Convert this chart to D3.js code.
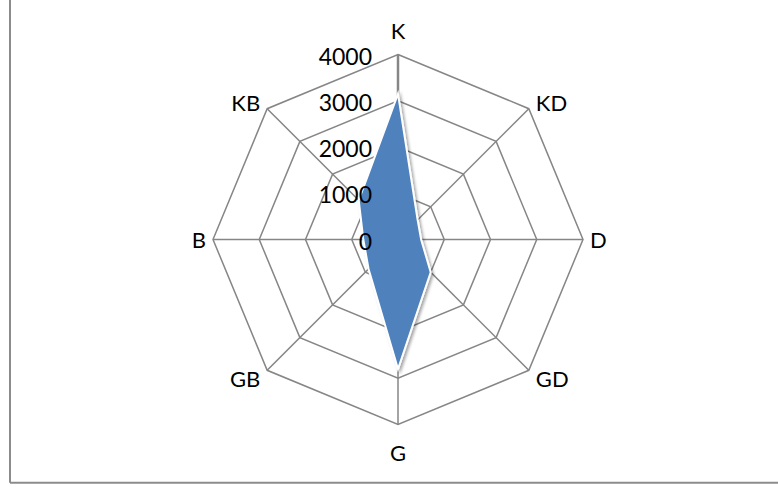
<!DOCTYPE html>
<html>
<head>
<meta charset="utf-8">
<script src="https://cdn.jsdelivr.net/npm/d3@7"></script>
<style>
  html, body { margin: 0; padding: 0; background: #fff; }
  svg { display: block; }
  text { font-family: Lato, "Open Sans", sans-serif; fill: #000; }
</style>
</head>
<body>
<svg id="chart" width="778" height="488"></svg>
<script>
// Radar categories, clockwise from the top
const categories = ["K", "KD", "D", "GD", "G", "GB", "B", "KB"];
// Series values per category
const values = [3150, 600, 500, 1000, 2800, 900, 750, 1200];
// Radial value axis ticks
const ticks = [0, 1000, 2000, 3000, 4000];

const W = 778, H = 488;
const cx = 398, cy = 239.5, R = 185;

const svg = d3.select("#chart");

// drop shadow for the data area
const defs = svg.append("defs");
const f = defs.append("filter").attr("id", "shadow")
  .attr("x", "-20%").attr("y", "-20%").attr("width", "140%").attr("height", "140%");
f.append("feDropShadow").attr("dx", 2).attr("dy", 2).attr("stdDeviation", 1.8)
  .attr("flood-color", "#000").attr("flood-opacity", 0.35);

// outer frame (left and bottom edges visible)
svg.append("line").attr("x1", 10).attr("x2", 10).attr("y1", 0).attr("y2", 482.7)
  .attr("stroke", "#8c8c8c").attr("stroke-width", 2);
svg.append("line").attr("x1", 10).attr("x2", W).attr("y1", 482.7).attr("y2", 482.7)
  .attr("stroke", "#8c8c8c").attr("stroke-width", 2);

const r = d3.scaleLinear().domain([0, d3.max(ticks)]).range([0, R]);
const angle = d3.scalePoint().domain(categories).range([0, 2 * Math.PI * (1 - 1 / categories.length)]);

const pt = (cat, v) => {
  const a = angle(cat) - Math.PI / 2;
  return [cx + r(v) * Math.cos(a), cy + r(v) * Math.sin(a)];
};

const g = svg.append("g");

// ring gridlines
g.selectAll("path.ring").data(ticks.filter(t => t > 0)).join("path")
  .attr("class", "ring")
  .attr("d", t => d3.line()(categories.map(c => pt(c, t))) + "Z")
  .attr("fill", "none").attr("stroke", "#868686").attr("stroke-width", 1.5);

// spokes
g.selectAll("line.spoke").data(categories).join("line")
  .attr("class", "spoke")
  .attr("x1", cx).attr("y1", cy)
  .attr("x2", c => pt(c, d3.max(ticks))[0])
  .attr("y2", c => pt(c, d3.max(ticks))[1])
  .attr("stroke", "#868686").attr("stroke-width", 1.5);

// value axis line along the first spoke
g.append("line")
  .attr("x1", cx).attr("y1", cy)
  .attr("x2", pt(categories[0], d3.max(ticks))[0])
  .attr("y2", pt(categories[0], d3.max(ticks))[1])
  .attr("stroke", "#868686").attr("stroke-width", 2.5);

// data area
g.append("path")
  .attr("d", d3.line()(categories.map((c, i) => pt(c, values[i]))) + "Z")
  .attr("fill", "#4F81BD")
  .attr("stroke", "#fff").attr("stroke-width", 2)
  .attr("stroke-linejoin", "miter")
  .attr("filter", "url(#shadow)");

// value tick labels
g.selectAll("text.tick").data(ticks).join("text")
  .attr("class", "tick")
  .attr("x", cx - 26)
  .attr("y", t => cy - r(t) + 1)
  .attr("text-anchor", "end")
  .attr("dominant-baseline", "central")
  .attr("font-size", 23)
  .text(t => t);

// category labels
g.selectAll("text.cat").data(categories).join("text")
  .attr("class", "cat")
  .each(function (c) {
    const a = angle(c) - Math.PI / 2;
    const [x, y] = pt(c, d3.max(ticks));
    const cos = Math.cos(a), sin = Math.sin(a);
    let anchor = "middle", dx = 0, dy = 0;
    if (cos > 0.1) { anchor = "start"; dx = 7; }
    else if (cos < -0.1) { anchor = "end"; dx = -7; }
    if (Math.abs(cos) < 0.1) dy = sin < 0 ? -24 : 28;
    else if (sin < -0.1) dy = -6;
    else if (sin > 0.1) dy = 8;
    d3.select(this)
      .attr("x", x + dx).attr("y", y + dy)
      .attr("text-anchor", anchor)
      .attr("dominant-baseline", "central")
      .attr("font-size", 22);
  })
  .text(c => c);
</script>
</body>
</html>
